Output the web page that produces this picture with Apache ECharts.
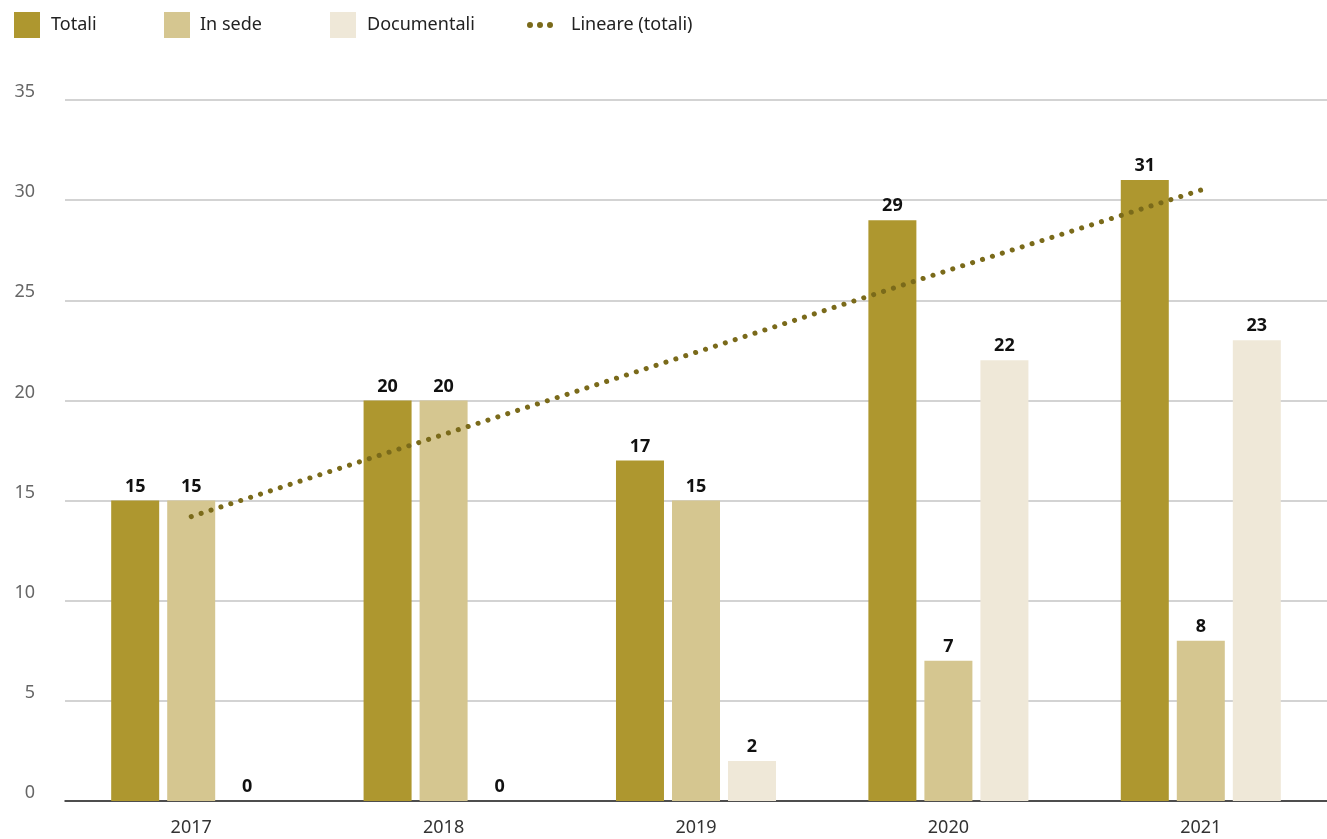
<!DOCTYPE html>
<html><head><meta charset="utf-8">
<script src="https://cdn.jsdelivr.net/npm/echarts@6/dist/echarts.min.js"></script>
<style>html,body{margin:0;padding:0;background:#fff}#c{width:1327px;height:839px}</style>
</head><body><div id="c"></div>
<script>
const years = ['2017','2018','2019','2020','2021'];
const totali = [15,20,17,29,31];
const inSede = [15,20,15,7,8];
const documentali = [0,0,2,22,23];
const lineare = [14.2,18.3,22.4,26.5,30.5];

const FONT = 'Noto Sans';
const dotsIcon = 'path://M0,3a3,3 0 1,0 6,0a3,3 0 1,0 -6,0M10,3a3,3 0 1,0 6,0a3,3 0 1,0 -6,0M20,3a3,3 0 1,0 6,0a3,3 0 1,0 -6,0';
const chart = echarts.init(document.getElementById('c'));
const lbl = {show:true, position:'top', distance:5, color:'#111', fontWeight:'bold', fontSize:18, fontFamily:FONT};
function leg(name, left, top, icon, color, pad){
  return {
    left:left, top:top, padding:0, itemWidth:26, itemHeight:26,
    textStyle:{fontSize:18, color:'#222', fontFamily:FONT, padding:[0,0,0,pad]},
    data:[{name:name, icon:icon, itemStyle: color ? {color:color} : undefined}]
  };
}
chart.setOption({
  animation:false,
  textStyle:{fontFamily:FONT},
  legend:[
    leg('Totali', 14, 12, 'rect', null, 6),
    leg('In sede', 164, 12, 'rect', null, 5),
    leg('Documentali', 330, 12, 'rect', null, 6),
    leg('Lineare (totali)', 527, 16, dotsIcon, '#7a6a1a', 13)
  ],
  grid:{left:65, right:-5, top:100, bottom:38, containLabel:false},
  xAxis:{
    type:'category', data:years,
    axisLine:{lineStyle:{color:'#222', width:1.5}},
    axisTick:{show:false},
    axisLabel:{fontSize:18, color:'#333', margin:18, fontFamily:FONT}
  },
  yAxis:{
    type:'value', min:0, max:35, interval:5,
    axisLabel:{fontSize:18, color:'#666', margin:30, verticalAlign:'bottom', lineHeight:16, fontFamily:FONT},
    splitLine:{lineStyle:{color:'#c4c4c4', width:1.5}},
    axisLine:{show:false}, axisTick:{show:false}
  },
  series:[
    {name:'Totali', type:'bar', data:totali, barWidth:48, barGap:'16.7%', itemStyle:{color:'#ae972f'}, label:lbl},
    {name:'In sede', type:'bar', data:inSede, barWidth:48, barGap:'16.7%', itemStyle:{color:'#d5c690'}, label:lbl},
    {name:'Documentali', type:'bar', data:documentali, barWidth:48, barGap:'16.7%', itemStyle:{color:'#efe8d8'}, label:lbl},
    {name:'Lineare (totali)', type:'line', data:lineare, symbol:'none', z:5,
      itemStyle:{color:'#7a6a1a'},
      lineStyle:{color:'#7a6a1a', width:5, type:[0.1,10.3], cap:'round'}}
  ]
});
</script></body></html>
